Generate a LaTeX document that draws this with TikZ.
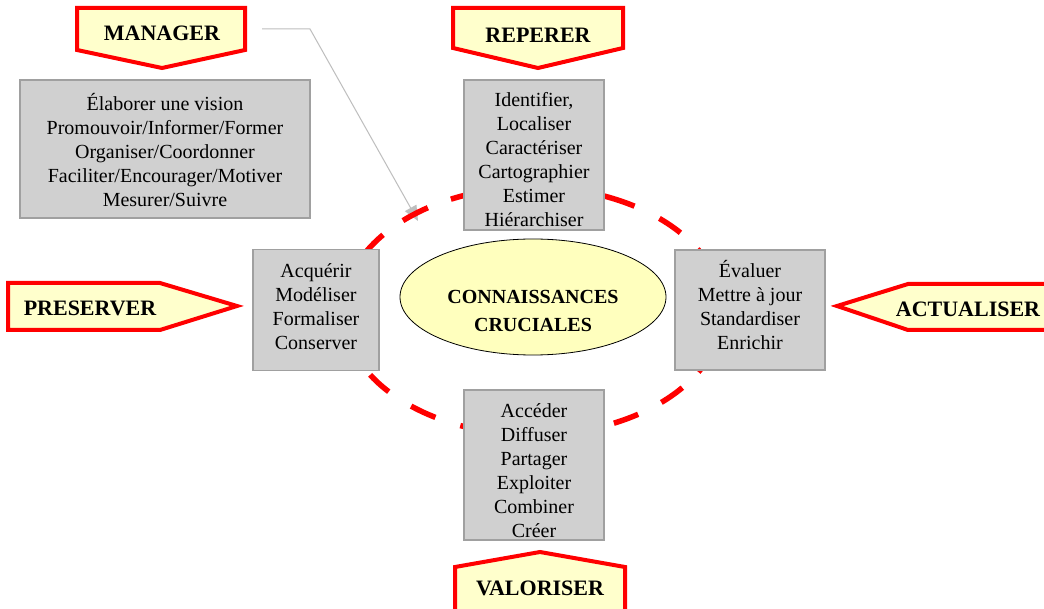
\documentclass[tikz,border=0pt]{standalone}
\usepackage{fontspec}
\setmainfont{Liberation Serif}
\usetikzlibrary{arrows.meta,shapes.geometric}
\definecolor{lblfill}{RGB}{255,255,204}
\definecolor{boxfill}{RGB}{208,208,208}
\definecolor{boxline}{RGB}{160,160,160}
\definecolor{arrowgray}{RGB}{190,190,190}
\definecolor{ellfill}{RGB}{255,255,190}
\tikzset{
  lblshape/.style={draw=red, line width=4pt, fill=lblfill, line join=miter},
  lbltext/.style={font=\bfseries\fontsize{22}{26}\selectfont, inner sep=0pt},
  graybox/.style={draw=boxline, line width=1.5pt, fill=boxfill, align=center, inner sep=0pt},
  boxtext/.style={align=center, font=\fontsize{20}{24}\selectfont, inner sep=0pt},
  ringdash/.style={draw=red, line width=5.5pt, line cap=butt},
  mgrarrow/.style={draw=arrowgray, line width=1pt, -{Triangle[length=15pt,width=13pt]}}
}
\begin{document}
\begin{tikzpicture}[x=1pt,y=-1pt]
\useasboundingbox (0,0) rectangle (1044,609);
\clip (0,0) rectangle (1044,609);
\fill[white] (0,0) rectangle (1044,609);

% manager arrow (under the ring)
\coordinate (m0) at (262,29);
\coordinate (m1) at (310,29);
\coordinate (m2) at (418,221);
\draw[mgrarrow] (m0) -- (m1) -- (m2);

% dashed cycle (centre 533,311; radii 190 x 124)
\foreach \a/\b in {2/11, 19/29.5, 38.2/47.5, 56.4/64.8, 73/81, 88/96, 103/112.5, 120.9/129.9, 139.4/149,
                   157/167, 175/187, 194/203, 207/217.9, 226.8/236.4, 244.4/253, 260/268, 275/283,
                   291/302.3, 311.7/320.9, 330/340, 348/357}
  \draw[ringdash] plot[domain=\a:\b, samples=12, smooth] ({533+190*cos(\x)},{311+124*sin(\x)});

% central ellipse
\node[draw=black, line width=0.8pt, fill=ellfill, ellipse, minimum width=266pt, minimum height=116pt, inner sep=0pt] (core) at (533,297) {};
\node[font=\bfseries\fontsize{20}{28}\selectfont, align=center, inner sep=0pt] (coretext) at (533,311) {CONNAISSANCES\\CRUCIALES};

% gray boxes
\node[graybox, minimum width=290pt, minimum height=138pt] (mgrbox) at (165,149) {};
\node[boxtext] (mgrtext) at (165,150)
  {Élaborer une vision\\Promouvoir/Informer/Former\\Organiser/Coordonner\\Faciliter/Encourager/Motiver\\Mesurer/Suivre};
\node[graybox, minimum width=140pt, minimum height=150pt] (topbox) at (534,155) {};
\node[boxtext] (toptext) at (534,160)
  {Identifier,\\Localiser\\Caractériser\\Cartographier\\Estimer\\Hiérarchiser};
\node[graybox, minimum width=126pt, minimum height=121pt] (leftbox) at (316,310) {};
\node[boxtext] (lefttext) at (316,307)
  {Acquérir\\Modéliser\\Formaliser\\Conserver};
\node[graybox, minimum width=150pt, minimum height=120pt] (rightbox) at (750,310) {};
\node[boxtext] (righttext) at (750,305)
  {Évaluer\\Mettre à jour\\Standardiser\\Enrichir};
\node[graybox, minimum width=140pt, minimum height=150pt] (botbox) at (534,465) {};
\node[boxtext] (bottext) at (534,471)
  {Accéder\\Diffuser\\Partager\\Exploiter\\Combiner\\Créer};

% labels
\draw[lblshape] (77,8) -- (245,8) -- (245,50) -- (162,68) -- (77,50) -- cycle;
\node[lbltext] (manager) at (162,33) {MANAGER};
\draw[lblshape] (453,8) -- (623,8) -- (623,48) -- (538,68) -- (453,48) -- cycle;
\node[lbltext] (reperer) at (538,35) {REPERER};
\draw[lblshape] (8,283) -- (160,283) -- (237,306) -- (160,330) -- (8,330) -- cycle;
\node[lbltext] (preserver) at (90,308) {PRESERVER};
\draw[lblshape] (837,306) -- (908,284) -- (1050,284) -- (1050,330) -- (908,330) -- cycle;
\node[lbltext] (actualiser) at (968,309) {ACTUALISER};
\draw[lblshape] (455,567) -- (540,552) -- (625,567) -- (625,620) -- (455,620) -- cycle;
\node[lbltext] (valoriser) at (540,588) {VALORISER};
\end{tikzpicture}
\end{document}
